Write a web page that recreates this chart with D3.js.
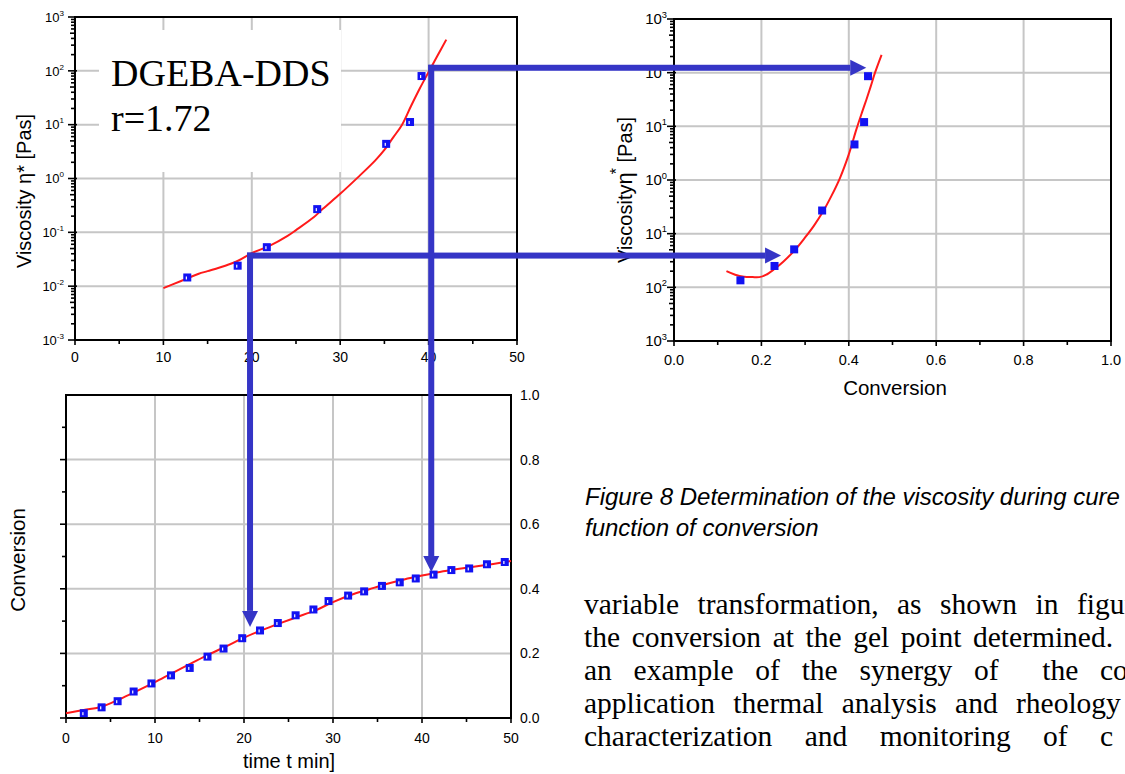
<!DOCTYPE html>
<html><head><meta charset="utf-8">
<script src="https://cdn.jsdelivr.net/npm/d3@7"></script>
<style>
body{margin:0;background:#fff}
svg{display:block}
text{fill:#000}
</style>
</head><body>
<svg id="c" width="1125" height="774" font-family="Liberation Sans, Arial, sans-serif"></svg>
<script>
// ---------------- DATA ----------------
// Chart 1: viscosity vs time
const visTime = [12.7, 18.4, 21.7, 27.4, 35.2, 37.9, 39.2];
const visTimeVal = [0.0145, 0.024, 0.053, 0.27, 4.4, 11.2, 80];
const fitTime = [10,12,14,15,17,18.5,20,22,24,25,27,28,30,32,34,35,36,37,38,39,40,41,42];
const fitTimeVal = [0.0092,0.0125,0.017,0.019,0.024,0.03,0.041,0.056,0.085,0.11,0.19,0.27,0.52,1.05,2.2,3.4,5.8,10,22,47,95,190,380];
// Chart 2: viscosity vs conversion
const visConv = [0.152, 0.23, 0.275, 0.339, 0.413, 0.435, 0.444];
const visConvVal = [0.0135, 0.025, 0.051, 0.27, 4.6, 12, 86];
const fitConv = [0.12,0.14,0.16,0.18,0.195,0.21,0.23,0.25,0.277,0.30,0.32,0.34,0.36,0.38,0.40,0.417,0.43,0.44,0.45,0.46,0.475];
const fitConvVal = [0.020,0.0172,0.0158,0.0155,0.0155,0.017,0.022,0.03,0.05,0.085,0.14,0.25,0.5,1.1,3.0,8.6,18,31,55,100,215];
// Chart 3: conversion vs time
const cureTime = [2,4,5.8,7.6,9.6,11.8,13.9,15.9,17.7,19.8,21.8,23.8,25.8,27.8,29.5,31.7,33.5,35.5,37.5,39.3,41.3,43.3,45.3,47.3,49.3];
const cureConv = [0.015,0.033,0.052,0.082,0.107,0.132,0.155,0.19,0.215,0.247,0.271,0.294,0.318,0.336,0.362,0.379,0.392,0.409,0.42,0.432,0.444,0.458,0.463,0.476,0.483];
const cureFitTime = [0,2,4,6,8,10,12,14,16,18,20,22,24,26,28,30,32,34,36,38,40,42,44,46,48,50];
const cureFitConv = [0.015,0.025,0.035,0.058,0.084,0.111,0.14,0.168,0.196,0.222,0.249,0.272,0.293,0.313,0.333,0.359,0.381,0.398,0.415,0.429,0.441,0.452,0.461,0.469,0.477,0.486];
// Gel-point construction arrows
const gelTime = [19.8, 40.3];
const gelVisc = [0.037, 114];
const gelConvTipVisc = [0.245, 0.44];
const gelConvTipTime = [0.282, 0.452];
// Tick labels
const timeTicks = [0,10,20,30,40,50];
const logTicks = [1e-3,1e-2,1e-1,1,10,100,1000];
const logExp1 = ["-3","-2","-1","0","1","2","3"];
const logExp2 = ["3","2","1","0","1","2","3"];
const convTicks = [0,0.2,0.4,0.6,0.8,1.0];
const convLabels = ["0.0","0.2","0.4","0.6","0.8","1.0"];
const bodyLines = [
  ["variable","transformation,","as","shown","in","figur"],
  ["the","conversion","at","the","gel","point","determined."],
  ["an","example","of","the","synergy","of","","the","co"],
  ["application","thermal","analysis","and","rheology"],
  ["characterization","and","monitoring","of","c"]
];
const captionLines = ["Figure 8 Determination of the viscosity during cure","function of conversion"];

// ---------------- DRAW ----------------
const SERIF = '"Liberation Serif", "Times New Roman", serif';
const svg = d3.select("#c");
svg.append("rect").attr("width",1125).attr("height",774).attr("fill","#fff");
const GRID="#c6c6c6", BLUE="#3535c6", MARK="#1212f2", RED="#ff1a1a";

const x1 = d3.scaleLinear().domain([0,50]).range([75,517]);
const y1 = d3.scaleLog().domain([1e-3,1e3]).range([340,17]);
const x2 = d3.scaleLinear().domain([0,1]).range([674,1111]);
const y2 = d3.scaleLog().domain([1e-3,1e3]).range([341,19]);
const x3 = d3.scaleLinear().domain([0,50]).range([66,511]);
const y3 = d3.scaleLinear().domain([0,1]).range([718,395]);

function grid(g, xs, ys, xv, yv){
  xv.forEach(v=>g.append("line").attr("x1",xs(v)).attr("x2",xs(v)).attr("y1",ys.range()[0]).attr("y2",ys.range()[1]).attr("stroke",GRID).attr("stroke-width",2));
  yv.forEach(v=>g.append("line").attr("y1",ys(v)).attr("y2",ys(v)).attr("x1",xs.range()[0]).attr("x2",xs.range()[1]).attr("stroke",GRID).attr("stroke-width",2));
}
function frame(g, xs, ys){
  g.append("rect").attr("x",xs.range()[0]).attr("y",ys.range()[1])
   .attr("width",xs.range()[1]-xs.range()[0]).attr("height",ys.range()[0]-ys.range()[1])
   .attr("fill","none").attr("stroke","#000").attr("stroke-width",2);
}
function tick(g,xa,ya,xb,yb){g.append("line").attr("x1",xa).attr("y1",ya).attr("x2",xb).attr("y2",yb).attr("stroke","#000").attr("stroke-width",1.6);}
function logYAxis(g, xs, ys, exps, fs, lx){
  const x0 = xs.range()[0];
  for(let k=-3;k<3;k++) for(let m=2;m<=9;m++){ const y=ys(m*Math.pow(10,k)); tick(g,x0-(m===5?5:4),y,x0+1,y); }
  logTicks.forEach((v,i)=>{
    const y=ys(v); tick(g,x0-7,y,x0+2,y);
    const t=g.append("text").attr("x",lx).attr("y",y+fs*0.36).attr("text-anchor","end").attr("font-size",fs);
    t.append("tspan").text("10");
    t.append("tspan").attr("dy",-fs*0.45).attr("font-size",fs*0.62).text(exps[i]);
  });
}
function xTicks(g, xs, ys, majors, minors, labels, fs, ly){
  const y0 = ys.range()[0];
  minors.forEach(v=>tick(g,xs(v),y0,xs(v),y0+4));
  majors.forEach((v,i)=>{ tick(g,xs(v),y0-1,xs(v),y0+5);
    g.append("text").attr("x",xs(v)).attr("y",ly).attr("text-anchor","middle").attr("font-size",fs).text(labels[i]); });
}
function points(g, xs, ys, X, Y, mark){
  X.forEach((v,i)=>{
    const cx=xs(v), cy=ys(Y[i]);
    g.append("rect").attr("x",cx-4).attr("y",cy-4).attr("width",8).attr("height",8).attr("fill",MARK);
    if(mark) g.append("rect").attr("x",cx-1.5).attr("y",cy-1).attr("width",1.2).attr("height",3).attr("fill","#fff");
  });
}
function curve(g, xs, ys, X, Y){
  const line=d3.line().x(d=>xs(d[0])).y(d=>ys(d[1])).curve(d3.curveCatmullRom.alpha(0.5));
  g.append("path").attr("d",line(X.map((v,i)=>[v,Y[i]]))).attr("fill","none").attr("stroke",RED).attr("stroke-width",2);
}

// Chart 1
const g1 = svg.append("g");
grid(g1,x1,y1,[10,20,30,40],[1e-2,1e-1,1,10,100]);
g1.append("rect").attr("x",99).attr("y",30).attr("width",242).attr("height",142).attr("fill","#fff");
g1.append("text").attr("x",111).attr("y",86).style("font-family",SERIF).attr("font-size",38).text("DGEBA-DDS");
g1.append("text").attr("x",111).attr("y",131).style("font-family",SERIF).attr("font-size",38).text("r=1.72");
frame(g1,x1,y1);
logYAxis(g1,x1,y1,logExp1,13,64);
xTicks(g1,x1,y1,timeTicks,[5,15,25,35,45],timeTicks.map(String),14,362);
g1.append("text").attr("transform","translate(31,191) rotate(-90)").attr("text-anchor","middle").attr("font-size",20).text("Viscosity η* [Pas]");
curve(g1,x1,y1,fitTime,fitTimeVal);
points(g1,x1,y1,visTime,visTimeVal,true);

// Chart 2
const g2 = svg.append("g");
grid(g2,x2,y2,[0.2,0.4,0.6,0.8],[1e-2,1e-1,1,10,100]);
frame(g2,x2,y2);
logYAxis(g2,x2,y2,logExp2,15,667);
xTicks(g2,x2,y2,convTicks,[0.1,0.3,0.5,0.7,0.9],convLabels,14.5,365);
const t2 = g2.append("text").attr("transform","translate(632,190) rotate(-90)").attr("text-anchor","middle").attr("font-size",20);
t2.append("tspan").text("Viscosity");
t2.append("tspan").attr("font-size",22).text("η");
t2.append("tspan").attr("dy",-10).attr("dx",-2).attr("font-size",16).text("*");
t2.append("tspan").attr("dy",10).text(" [Pas]");
g2.append("text").attr("x",895).attr("y",395).attr("text-anchor","middle").attr("font-size",20.5).text("Conversion");
curve(g2,x2,y2,fitConv,fitConvVal);
points(g2,x2,y2,visConv,visConvVal,false);

// Chart 3
const g3 = svg.append("g");
grid(g3,x3,y3,[10,20,30,40],[0.2,0.4,0.6,0.8]);
frame(g3,x3,y3);
d3.range(1,10).forEach(i=>{const y=y3(i/10); tick(g3,x3.range()[0]-(i%2===0?6:4),y,x3.range()[0],y);});
tick(g3,x3.range()[0]-6,y3(0),x3.range()[0],y3(0));
convTicks.forEach((v,i)=>g3.append("text").attr("x",520).attr("y",y3(v)+5).attr("font-size",14).text(convLabels[i]));
xTicks(g3,x3,y3,timeTicks,[5,15,25,35,45],timeTicks.map(String),14,743);
g3.append("text").attr("transform","translate(25,560) rotate(-90)").attr("text-anchor","middle").attr("font-size",20.5).text("Conversion");
g3.append("text").attr("x",289).attr("y",768).attr("text-anchor","middle").attr("font-size",20).text("time t min]");
curve(g3,x3,y3,cureFitTime,cureFitConv);
points(g3,x3,y3,cureTime,cureConv,true);

// Arrows
const ga = svg.append("g").attr("fill",BLUE);
const LW=6, HL=16, HW=8;
gelTime.forEach((t,i)=>{
  const vx = x1(t), hy = y1(gelVisc[i]);
  const tipX = x2(gelConvTipVisc[i]);
  const tipY = y3(gelConvTipTime[i]);
  ga.append("rect").attr("x",vx-LW/2).attr("y",hy-LW/2).attr("width",tipX-HL-(vx-LW/2)).attr("height",LW);
  ga.append("path").attr("d",`M${tipX-HL},${hy-HW}L${tipX},${hy}L${tipX-HL},${hy+HW}Z`);
  ga.append("rect").attr("x",vx-LW/2).attr("y",hy-LW/2).attr("width",LW).attr("height",tipY-HL-(hy-LW/2));
  ga.append("path").attr("d",`M${vx-HW},${tipY-HL}L${vx},${tipY}L${vx+HW},${tipY-HL}Z`);
});

// Caption
captionLines.forEach((s,i)=>svg.append("text").attr("x",585).attr("y",505+i*31).attr("font-style","italic").attr("font-size",24).text(s));

// Body text (justified)
const lastStart=[1077,973,1100,1016,1100];
bodyLines.forEach((words,i)=>{
  const y=614+i*33;
  const els=words.map(w=>svg.append("text").attr("y",y).style("font-family",SERIF).attr("font-size",29.5).text(w));
  const widths=els.map(e=>e.node().getComputedTextLength());
  const sumW=d3.sum(widths.slice(0,-1));
  const gap=(lastStart[i]-584-sumW)/(words.length-1);
  let x=584;
  els.forEach((e,j)=>{e.attr("x",x); x+=widths[j]+gap;});
});
</script>
</body></html>
